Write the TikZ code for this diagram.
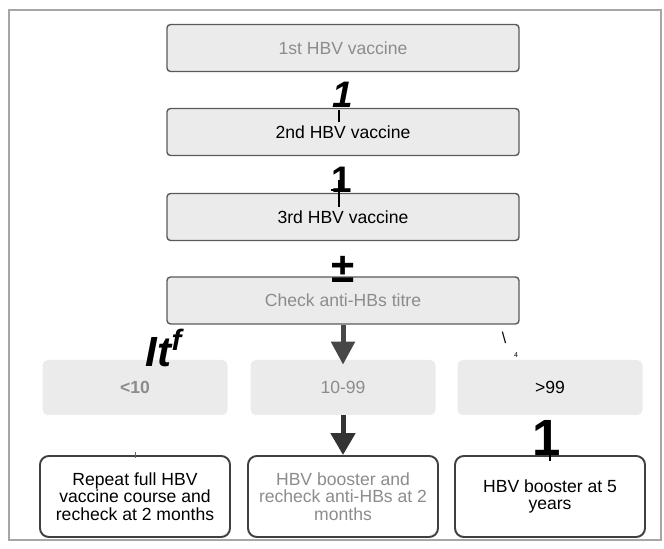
\documentclass[tikz,border=0pt]{standalone}
\usepackage{fontspec}
\setmainfont{Liberation Sans}
\usetikzlibrary{positioning,arrows.meta}

\definecolor{boxgray}{HTML}{EBEBEB}
\definecolor{edgegray}{HTML}{5A5A5A}
\definecolor{txtgray}{HTML}{8C8C8C}

\begin{document}
\begin{tikzpicture}[on grid,
	every node/.style={font=\fontsize{10}{10}\selectfont},
	vbox/.style={draw=edgegray,line width=0.8pt,fill=boxgray,
		rounded corners=2pt,minimum width=7.04cm,minimum height=0.94cm},
	rbox/.style={fill=boxgray,rounded corners=3pt,
		minimum width=3.7cm,minimum height=1.1cm},
	obox/.style={draw=black!75,line width=1.1pt,fill=white,rounded corners=5pt,
		minimum width=3.8cm,minimum height=1.62cm,align=center},
	scrawl/.style={font=\fontsize{21}{21}\selectfont\bfseries,inner sep=0pt}
	]
	\useasboundingbox (0,0) rectangle (13.28,10.98);
	% outer frame
	\draw[black!35,line width=0.6pt] (0.18,0.18) rectangle (13.22,10.78);

	% vaccine column
	\node[vbox,text=txtgray] (v1) at (6.86,10.02) {1st HBV vaccine};
	\node[vbox,below=1.68cm of v1] (v2) {2nd HBV vaccine};
	\node[vbox,below=1.70cm of v2] (v3) {3rd HBV vaccine};
	\node[vbox,text=txtgray,below=1.67cm of v3] (chk) {Check anti-HBs titre};

	% titre ranges
	\node[rbox,text=txtgray,below=1.74cm of chk] (mid) {10-99};
	\node[rbox,text=txtgray,font=\fontsize{10}{10}\selectfont\bfseries,left=4.16cm of mid] (low) {<10};
	\node[rbox,right=4.14cm of mid] (high) {>99};

	% outcomes
	\node[obox,below=2.18cm of low] (lowout) {Repeat full HBV\\vaccine course and\\recheck at 2 months};
	\node[obox,text=txtgray,below=2.18cm of mid] (midout) {HBV booster and\\recheck anti-HBs at 2\\months};
	\node[obox,below=2.18cm of high] (highout) {HBV booster at 5\\years};

	% arrows
	\draw[black!72,line width=0.1cm,-{Triangle[width=0.46cm,length=0.46cm]}] (chk.south) -- ([yshift=-0.1cm]mid.north);
	\draw[black!80,line width=0.1cm,-{Triangle[width=0.48cm,length=0.44cm]}] (mid.south) -- (midout.north);

	% scanned marks
	\node[scrawl,font=\fontsize{21}{21}\selectfont\bfseries\itshape] (m1) at (6.86,9.08) {1};
	\draw[line width=1.2pt] ([xshift=-0.08cm,yshift=-0.04cm]v2.north) -- ++(0,-0.24);
	\node[scrawl] (m2) at (6.84,7.38) {1};
	\draw[line width=1.2pt] ([xshift=-0.08cm,yshift=0.26cm]v3.north) -- ++(0,-0.54);
	\draw[line width=1.2pt] ([xshift=-0.25cm,yshift=0.06cm]v3.north) -- ++(0.34,0);
	\node[scrawl,font=\fontsize{24}{24}\selectfont\bfseries] (m3) at (6.86,5.60) {±};
	\node[scrawl,font=\fontsize{24}{24}\selectfont\bfseries\itshape] (m4) at (3.28,4.02) {It\textsuperscript{f}};
	\node[inner sep=0pt,font=\fontsize{9}{9}\selectfont] (m5) at (10.08,4.22) {\textbackslash};
	\node[inner sep=0pt,font=\fontsize{4}{4}\selectfont] (m6) at (10.32,3.88) {4};
	\node[scrawl,font=\fontsize{29}{29}\selectfont\bfseries] (m7) at (10.94,2.22) {1};
	\draw[line width=1.2pt] ([yshift=0.1cm]highout.north) -- ++(0,-0.22);
	\draw[black!60] ([yshift=0.06cm]lowout.north) -- ++(0,-0.12);
\end{tikzpicture}
\end{document}
